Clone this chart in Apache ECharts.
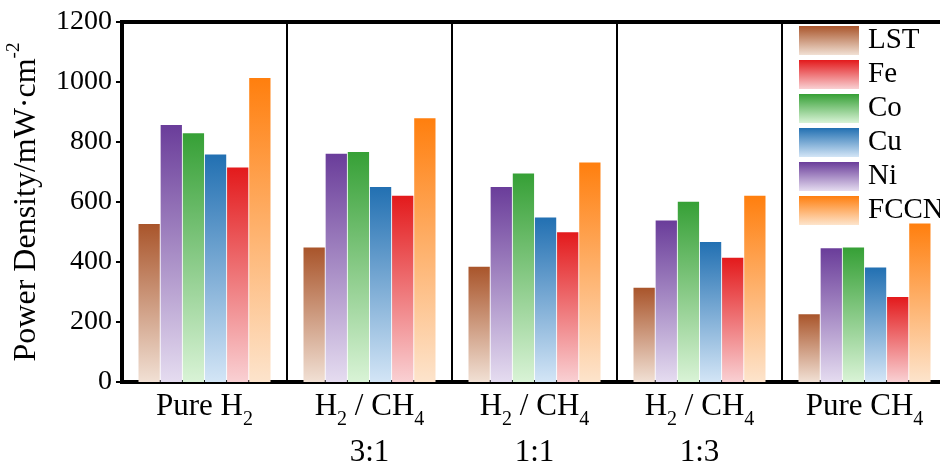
<!DOCTYPE html>
<html>
<head>
<meta charset="utf-8">
<script src="https://cdn.jsdelivr.net/npm/echarts@6/dist/echarts.min.js"></script>
<style>html,body{margin:0;padding:0;background:#fff;}#c{width:940px;height:468px;}</style>
</head>
<body>
<div id="c"></div>
<script>
const categories = ['Pure H{s|2}', 'H{s|2} / CH{s|4}\n3:1', 'H{s|2} / CH{s|4}\n1:1', 'H{s|2} / CH{s|4}\n1:3', 'Pure CH{s|4}'];
const seriesNames = ['LST', 'Ni', 'Co', 'Cu', 'Fe', 'FCCN'];
const legendOrder = ['LST', 'Fe', 'Co', 'Cu', 'Ni', 'FCCN'];
const LST  = [527, 448, 384, 314, 226];
const Ni   = [857, 761, 650, 538, 446];
const Co   = [829, 767, 695, 601, 448];
const Cu   = [758, 650, 548, 467, 382];
const Fe   = [715, 621, 499, 414, 283];
const FCCN = [1013, 879, 732, 621, 528];
const yTicks = [0, 200, 400, 600, 800, 1000, 1200];

const values = {LST, Ni, Co, Cu, Fe, FCCN};
const colors = {
  LST:  ['#a9552b', '#f1e0d4'],
  Ni:   ['#6a3d9a', '#e5dcf0'],
  Co:   ['#36a036', '#d9f3d6'],
  Cu:   ['#2270b2', '#d3e5f6'],
  Fe:   ['#e31a1c', '#f9d0d3'],
  FCCN: ['#ff7f0e', '#fde4cc']
};
const font = 'Liberation Serif';

const chart = echarts.init(document.getElementById('c'), null, {renderer: 'canvas'});
chart.setOption({
  animation: false,
  textStyle: {fontFamily: font},
  grid: {left: 122, top: 22, bottom: 86, width: 825, containLabel: false, outerBoundsMode: 'none',
         show: true, borderColor: '#000', borderWidth: 4, backgroundColor: 'transparent'},
  legend: {
    data: legendOrder,
    orient: 'vertical',
    left: 799, top: 26,
    padding: 0,
    itemWidth: 60, itemHeight: 29, itemGap: 5,
    textStyle: {fontFamily: font, fontSize: 29, color: '#000', padding: [0, 0, 0, 4]},
    icon: 'rect'
  },
  xAxis: {
    type: 'category',
    data: categories,
    axisLine: {lineStyle: {color: '#000', width: 4}},
    axisTick: {show: false},
    splitLine: {show: true, interval: 0, lineStyle: {color: '#000', width: 2}},
    axisLabel: {
      interval: 0,
      hideOverlap: false,
      margin: 2,
      color: '#000',
      fontFamily: font,
      fontSize: 31,
      lineHeight: 46,
      rich: {
        s: {fontFamily: font, fontSize: 20, lineHeight: 32, verticalAlign: 'bottom', color: '#000'}
      }
    }
  },
  yAxis: {
    type: 'value',
    min: yTicks[0], max: yTicks[yTicks.length - 1], interval: 200,
    name: 'Power Density/mW·cm{p|-2}',
    nameLocation: 'middle',
    nameRotate: 90,
    nameGap: 73,
    nameMoveOverlap: false,
    nameTextStyle: {
      fontFamily: font, fontSize: 32, color: '#000', lineHeight: 44,
      rich: {p: {fontFamily: font, fontSize: 19, lineHeight: 28, verticalAlign: 'top', color: '#000'}}
    },
    axisLine: {show: true, lineStyle: {color: '#000', width: 4}},
    axisTick: {show: true, length: 6, lineStyle: {color: '#000', width: 2}},
    splitLine: {show: false},
    axisLabel: {color: '#000', fontFamily: font, fontSize: 28, margin: 10, formatter: v => String(v)}
  },
  series: seriesNames.map(n => ({
    name: n,
    type: 'bar',
    data: values[n],
    barGap: '4%',
    barCategoryGap: '20%',
    itemStyle: {
      color: new echarts.graphic.LinearGradient(0, 0, 0, 1, [
        {offset: 0, color: colors[n][0]},
        {offset: 1, color: colors[n][1]}
      ])
    }
  }))
});
</script>
</body>
</html>
